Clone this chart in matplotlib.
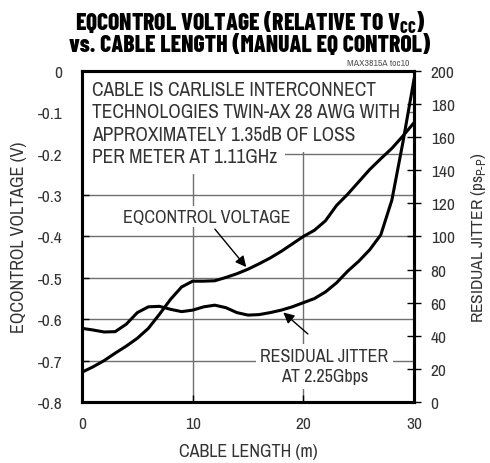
import matplotlib
matplotlib.use("Agg")
import matplotlib.pyplot as plt

plt.rcParams['font.family'] = ['Archivo Narrow', 'DejaVu Sans']
plt.rcParams['mathtext.fontset'] = 'custom'
plt.rcParams['mathtext.rm'] = 'Archivo Narrow'

# cable length (m)
length = [0, 1, 2, 3, 4, 5, 6, 7, 8, 9, 10, 11, 12, 13, 14, 15,
          16, 17, 18, 19, 20, 21, 22, 23, 24, 25, 26, 27, 28, 29, 30]
# EQCONTROL voltage relative to Vcc (V)
eq_volt = [-0.728, -0.715, -0.700, -0.682, -0.665, -0.646, -0.622, -0.588,
           -0.552, -0.522, -0.508, -0.508, -0.507, -0.499, -0.490, -0.479,
           -0.466, -0.452, -0.436, -0.418, -0.400, -0.385, -0.362, -0.325,
           -0.298, -0.268, -0.238, -0.212, -0.187, -0.157, -0.125]
# residual jitter (psP-P)
jitter = [44.5, 43.5, 42.3, 42.5, 47.0, 54.0, 57.5, 57.8, 56.0, 54.6, 55.5,
          57.5, 58.5, 57.0, 54.0, 52.5, 52.8, 54.0, 55.5, 57.5, 60.0, 62.5,
          66.5, 72.0, 79.0, 85.0, 92.0, 101.0, 122.0, 157.0, 195.0]

volt_ticks = [0, -0.1, -0.2, -0.3, -0.4, -0.5, -0.6, -0.7, -0.8]
volt_labels = ['0', '-0.1', '-0.2', '-0.3', '-0.4', '-0.5', '-0.6', '-0.7', '-0.8']
jitter_ticks = [0, 20, 40, 60, 80, 100, 120, 140, 160, 180, 200]
len_ticks = [0, 10, 20, 30]

note_lines = ['CABLE IS CARLISLE INTERCONNECT',
              'TECHNOLOGIES TWIN-AX 28 AWG WITH',
              'APPROXIMATELY 1.35dB OF LOSS',
              'PER METER AT 1.11GHz']

tick_col = '#333333'
grid_col = '#707070'

fig = plt.figure(figsize=(4.9, 4.64), dpi=100)
ax = fig.add_axes([0.1673, 0.1315, 0.6776, 0.7133])
ax2 = ax.twinx()

# grid
for v in volt_ticks[1:-1]:
    ax.axhline(v, color=grid_col, lw=1.0, zorder=1)
for x in len_ticks[1:-1]:
    ax.axvline(x, color=grid_col, lw=1.0, zorder=1)

ax.plot(length, eq_volt, color='black', lw=2.2, zorder=5)
ax2.plot(length, jitter, color='black', lw=2.2, zorder=5)

ax.set_xlim(0, 30)
ax.set_ylim(-0.8, 0)
ax2.set_ylim(0, 200)

ax.set_xticks(len_ticks)
ax.set_yticks(volt_ticks)
ax.set_yticklabels(volt_labels)
ax2.set_yticks(jitter_ticks)

ax.tick_params(axis='both', direction='in', length=5, width=1, colors='black',
               labelcolor=tick_col, labelsize=12.5, top=True, right=False, pad=14)
ax.tick_params(axis='x', pad=10)
ax2.tick_params(axis='y', direction='inout', length=10, width=1, colors='black',
                labelcolor=tick_col, labelsize=12.5, pad=7)

for a in (ax, ax2):
    for s in a.spines.values():
        s.set_linewidth(2.2)

ax.set_xlabel('CABLE LENGTH (m)', fontsize=13, color=tick_col, labelpad=9)
ax.set_ylabel('EQCONTROL VOLTAGE (V)', fontsize=13, color=tick_col, labelpad=8)
ax2.set_ylabel(r'RESIDUAL JITTER (ps$_{\text{P-P}}$)', fontsize=12.5,
               color=tick_col, labelpad=10)

# note block: white boxes first, then the text on top of all of them
for i, line in enumerate(note_lines):
    y = -0.044 - 0.0545 * i
    ax.text(0.9, y, line, fontsize=14, color='none', va='center', ha='left',
            zorder=2, bbox=dict(boxstyle='square,pad=0.4', fc='white', ec='none'))
    ax.text(0.9, y, line, fontsize=14, color=tick_col, va='center', ha='left',
            zorder=3)

ax.text(11.3, -0.352, 'EQCONTROL VOLTAGE', fontsize=13, color=tick_col,
        ha='center', va='center', zorder=3,
        bbox=dict(boxstyle='square,pad=0.15', fc='white', ec='none'))
ax.annotate('', xy=(15.0, -0.479), xytext=(11.85, -0.377),
            arrowprops=dict(arrowstyle='-|>', color='black', lw=1.0,
                            mutation_scale=16), zorder=4)

ax.text(21.9, -0.714, 'RESIDUAL JITTER\nAT 2.25Gbps', fontsize=13,
        color=tick_col, ha='center', va='center', multialignment='center',
        linespacing=1.3, zorder=3,
        bbox=dict(boxstyle='square,pad=0.25', fc='white', ec='none'))
ax2.annotate('', xy=(18.0, 55.2), xytext=(20.6, 40),
             arrowprops=dict(arrowstyle='-|>', color='black', lw=1.0,
                             mutation_scale=16))

fig.text(0.836, 0.864, 'MAX3815A toc10', fontsize=7, color='#555555',
         ha='right', va='center')

title_font = ['Barlow Condensed', 'DejaVu Sans']
fig.text(0.51, 0.952, r'EQCONTROL VOLTAGE (RELATIVE TO V$\mathregular{_{CC}}$)',
         fontsize=17, fontweight=800, family=title_font, ha='center', va='center')
fig.text(0.51, 0.900, 'vs. CABLE LENGTH (MANUAL EQ CONTROL)',
         fontsize=17, fontweight=800, family=title_font, ha='center', va='center')

fig.savefig('out.png', dpi=100)
